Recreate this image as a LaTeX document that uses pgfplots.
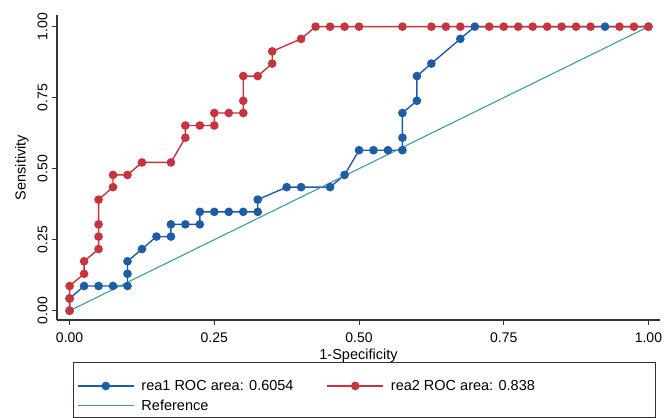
\documentclass[border=0pt]{standalone}
\usepackage{fontspec}
\setmainfont{Liberation Sans}
\usepackage{pgfplots}
\pgfplotsset{compat=1.18}
\definecolor{cBlue}{HTML}{1F5CA6}
\definecolor{cRed}{HTML}{C8343E}
\definecolor{cTeal}{HTML}{3A9EA5}
\definecolor{cAxis}{HTML}{333333}
\newcommand{\fs}{\fontsize{14.5bp}{17bp}\selectfont}
\newcommand{\ft}{\fontsize{14bp}{16bp}\selectfont}
\begin{document}
\begin{tikzpicture}
\begin{axis}[
  at={(0,0)}, anchor=south west,
  scale only axis, width=603bp, height=305bp,
  xmin=-0.0218, xmax=1.02, ymin=-0.0327, ymax=1.041,
  axis x line*=bottom, axis y line*=left,
  axis line style={cAxis, line width=1.1bp},
  tick align=outside, major tick length=5bp,
  tick style={cAxis, line width=1bp},
  xtick={0,0.25,0.5,0.75,1}, xticklabels={0.00,0.25,0.50,0.75,1.00},
  ytick={0,0.25,0.5,0.75,1}, yticklabels={0.00,0.25,0.50,0.75,1.00},
  tick label style={font=\ft},
  yticklabel style={rotate=90, anchor=south, yshift=1bp},
  xticklabel style={yshift=-4bp},
  xlabel={1-Specificity}, ylabel={Sensitivity},
  label style={font=\fs},
  xlabel style={yshift=0bp},
  ylabel style={yshift=2bp},
  legend columns=2,
  legend cell align=left,
  legend style={at={(rel axis cs:0.033,-0.190)}, anchor=north west,
    draw=none, fill=none, font=\fs, inner xsep=0bp, inner ysep=0bp,
    row sep=4bp,
    /tikz/every odd column/.append style={column sep=5bp},
    /tikz/every even column/.append style={column sep=31bp}},
  legend image code/.code={%
    \draw[#1, mark repeat=2, mark phase=2] plot coordinates {(0bp,0bp) (28bp,0bp) (56bp,0bp)};},
  every axis plot/.append style={line width=1.4bp},
]
\addplot[cBlue, mark=*, mark size=3.6bp, mark options={fill=cBlue, draw=cBlue}] coordinates {
(0,0) (0,0.043) (0.025,0.087) (0.05,0.087) (0.075,0.087) (0.1,0.087) (0.1,0.130) (0.1,0.174)
(0.125,0.217) (0.15,0.261) (0.175,0.261) (0.175,0.304) (0.2,0.304) (0.225,0.304) (0.225,0.348)
(0.25,0.348) (0.275,0.348) (0.3,0.348) (0.325,0.348) (0.325,0.391) (0.375,0.435) (0.4,0.435)
(0.45,0.435) (0.475,0.478) (0.5,0.565) (0.525,0.565) (0.55,0.565) (0.575,0.565) (0.575,0.609)
(0.575,0.696) (0.6,0.739) (0.6,0.826) (0.625,0.870) (0.675,0.957) (0.7,1) (0.925,1) (1,1)};
\addlegendentry{rea1 ROC area: 0.6054}
\addplot[cRed, mark=*, mark size=3.6bp, mark options={fill=cRed, draw=cRed}] coordinates {
(0,0) (0,0.043) (0,0.087) (0.025,0.130) (0.025,0.174) (0.05,0.217) (0.05,0.261) (0.05,0.304)
(0.05,0.391) (0.075,0.435) (0.075,0.478) (0.1,0.478) (0.125,0.522) (0.175,0.522) (0.2,0.609)
(0.2,0.652) (0.225,0.652) (0.25,0.652) (0.25,0.696) (0.275,0.696) (0.3,0.696) (0.3,0.739)
(0.3,0.826) (0.325,0.826) (0.35,0.870) (0.35,0.913) (0.4,0.957) (0.425,1) (0.45,1) (0.475,1)
(0.5,1) (0.575,1) (0.625,1) (0.65,1) (0.675,1) (0.725,1) (0.75,1) (0.775,1) (0.8,1) (0.825,1)
(0.85,1) (0.875,1) (0.9,1) (0.95,1) (0.975,1) (1,1)};
\addlegendentry{rea2 ROC area: 0.838}
\addplot[cTeal, line width=1.1bp, mark=none] coordinates {(0,0) (1,1)};
\addlegendentry{Reference}
\end{axis}
% legend frame
\draw[cAxis, line width=0.8bp] (16bp,-42bp) rectangle (598bp,-97bp);
\pgfresetboundingbox
\path[use as bounding box] (-57bp,-98bp) rectangle (608bp,320bp);
\end{tikzpicture}
\end{document}
